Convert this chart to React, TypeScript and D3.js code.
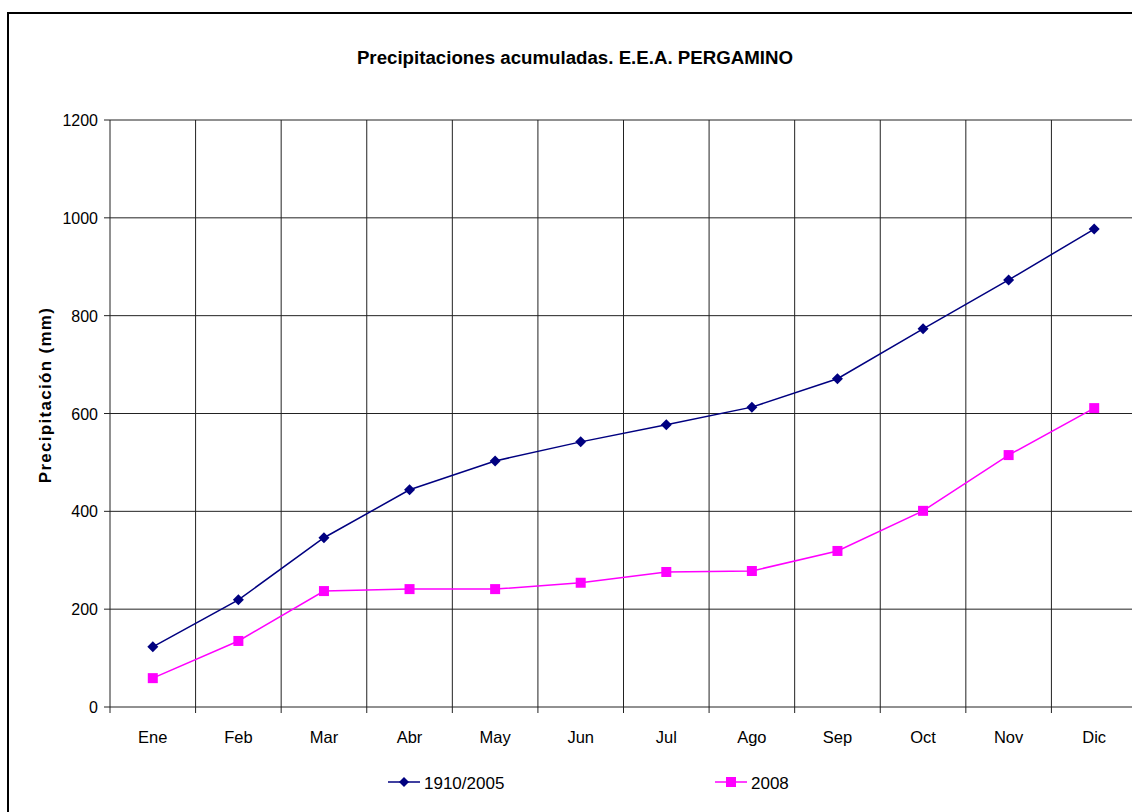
import React from "react";
import * as d3 from "d3";

const months = ["Ene", "Feb", "Mar", "Abr", "May", "Jun", "Jul", "Ago", "Sep", "Oct", "Nov", "Dic"];
const histValues = [123, 219, 346, 444, 503, 542, 577, 613, 671, 773, 873, 977];
const values2008 = [59, 135, 237, 241, 241, 254, 276, 278, 319, 401, 515, 611];
const yTicks = [0, 200, 400, 600, 800, 1000, 1200];
const seriesNames = ["1910/2005", "2008"];

export default function App() {
  const W = 1132, H = 812;
  const left = 110, right = 1137, top = 120, bottom = 707;
  const x = d3.scaleBand<string>().domain(months).range([left, right]).padding(0);
  const y = d3.scaleLinear().domain([0, 1200]).range([bottom, top]);
  const cx = (m: string) => (x(m) as number) + x.bandwidth() / 2;
  const line = d3.line<number>().x((_, i) => cx(months[i])).y((d) => y(d));
  const font = "Arial, 'Liberation Sans', sans-serif";
  const diamond = (px: number, py: number, r = 5.5) =>
    `M${px},${py - r}L${px + r},${py}L${px},${py + r}L${px - r},${py}Z`;
  const boundaries = months.map((m) => x(m) as number).concat([right]);
  return (
    <svg width={W} height={H} style={{ position: "absolute", left: 0, top: 0, background: "#fff" }} fontFamily={font}>
      <rect x={0} y={0} width={W} height={H} fill="#fff" />
      <rect x={8} y={13} width={1140} height={820} fill="none" stroke="#000" strokeWidth={2} />
      <text x={575} y={64} textAnchor="middle" fontSize={18.7} fontWeight="bold">
        Precipitaciones acumuladas. E.E.A. PERGAMINO
      </text>
      {yTicks.map((t) => (
        <g key={t}>
          <line x1={left} x2={right} y1={y(t)} y2={y(t)} stroke="#222" strokeWidth={1} />
          <line x1={left - 6} x2={left} y1={y(t)} y2={y(t)} stroke="#222" strokeWidth={1} />
          <text x={left - 12} y={y(t) + 6} textAnchor="end" fontSize={16}>{t}</text>
        </g>
      ))}
      {boundaries.map((b, i) => (
        <line key={i} x1={b} x2={b} y1={top} y2={bottom + 6} stroke="#222" strokeWidth={1} />
      ))}
      {months.map((m) => (
        <text key={m} x={cx(m)} y={743} textAnchor="middle" fontSize={16.5}>{m}</text>
      ))}
      <text transform={`translate(51,395) rotate(-90)`} textAnchor="middle" fontSize={17} fontWeight="bold" letterSpacing={1.3}>
        Precipitación (mm)
      </text>
      <path d={line(histValues) || ""} fill="none" stroke="#000080" strokeWidth={1.5} />
      {histValues.map((v, i) => (
        <path key={i} d={diamond(cx(months[i]), y(v))} fill="#000080" />
      ))}
      <path d={line(values2008) || ""} fill="none" stroke="#FF00FF" strokeWidth={1.5} />
      {values2008.map((v, i) => (
        <rect key={i} x={cx(months[i]) - 5} y={y(v) - 5} width={10} height={10} fill="#FF00FF" />
      ))}
      <line x1={388} x2={420} y1={782} y2={782} stroke="#000080" strokeWidth={1.5} />
      <path d={diamond(404, 782, 5)} fill="#000080" />
      <text x={424} y={789} fontSize={17}>{seriesNames[0]}</text>
      <line x1={715} x2={747} y1={782} y2={782} stroke="#FF00FF" strokeWidth={1.5} />
      <rect x={726} y={777} width={10} height={10} fill="#FF00FF" />
      <text x={751} y={789} fontSize={17}>{seriesNames[1]}</text>
    </svg>
  );
}
